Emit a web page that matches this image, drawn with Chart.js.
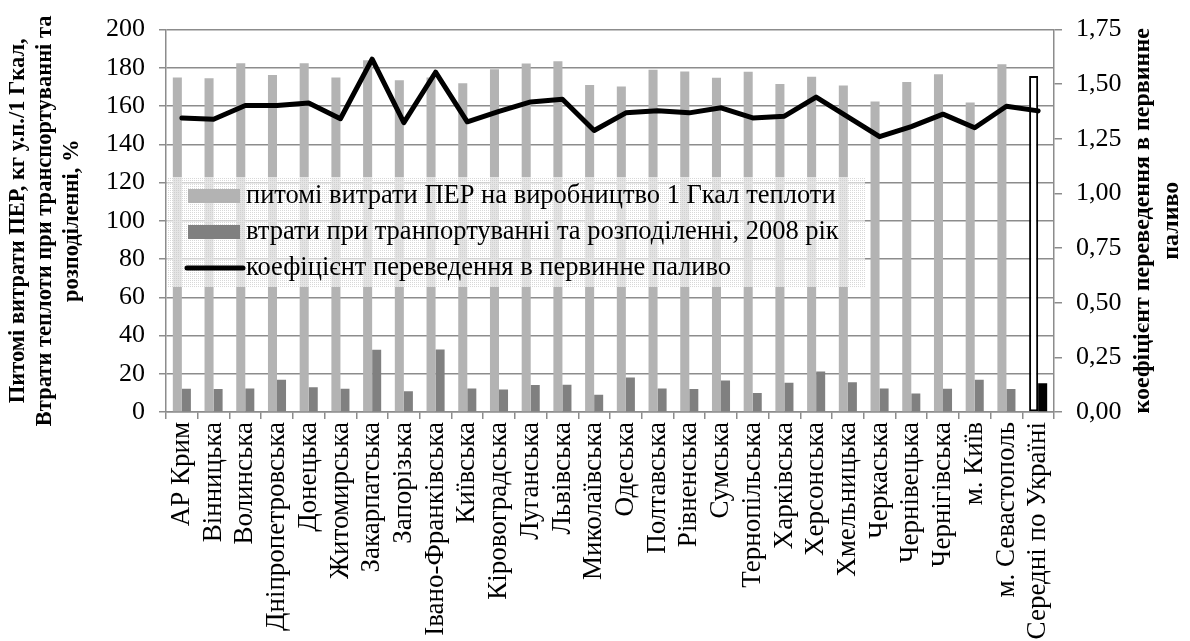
<!DOCTYPE html>
<html>
<head>
<meta charset="utf-8">
<script src="https://cdn.jsdelivr.net/npm/chart.js@4.4.1/dist/chart.umd.min.js"></script>
<style>
html,body{margin:0;padding:0;background:#fff;}
#wrap{width:1190px;height:641px;position:relative;}
</style>
</head>
<body>
<div id="wrap"><canvas id="c" width="1190" height="641"></canvas></div>
<script>
const categories = ['АР Крим','Вінницька','Волинська','Дніпропетровська','Донецька','Житомирська','Закарпатська','Запорізька','Івано-Франківська','Київська','Кіровоградська','Луганська','Львівська','Миколаївська','Одеська','Полтавська','Рівненська','Сумська','Тернопільська','Харківська','Херсонська','Хмельницька','Черкаська','Чернівецька','Чернігівська','м. Київ','м. Севастополь','Середні по Україні'];
const specificUse = [175, 174.5, 182.4, 176.2, 182.4, 175, 184, 173.5, 175, 172, 179.3, 182.3, 183.5, 171, 170.2, 179, 178.1, 174.8, 178, 171.6, 175.4, 170.7, 162.4, 172.6, 176.7, 161.9, 181.9, 175.7];
const losses = [12.2, 12, 12.3, 16.9, 12.9, 12.2, 32.6, 10.9, 32.7, 12.3, 11.8, 14.1, 14.3, 9.0, 18.1, 12.3, 12, 16.5, 10, 15.3, 21.2, 15.5, 12.3, 9.7, 12.2, 16.9, 12, 15.0];
const coefficient = [1.346, 1.340, 1.403, 1.403, 1.414, 1.342, 1.615, 1.324, 1.555, 1.328, 1.376, 1.419, 1.431, 1.288, 1.369, 1.379, 1.369, 1.392, 1.346, 1.354, 1.441, 1.351, 1.260, 1.306, 1.363, 1.301, 1.399, 1.378];
const seriesNames = ['питомі витрати ПЕР на виробництво 1 Гкал теплоти','втрати при транпортуванні та розподіленні, 2008 рік','коефіцієнт переведення в первинне паливо'];
const leftTitle = ['Питомі витрати ПЕР, кг у.п./1 Гкал,','Втрати теплоти при транспортуванні та','розподіленні, %'];
const rightTitle = ['коефіцієнт переведення в первинне','паливо'];

const FONT = "'Liberation Serif', 'Times New Roman', serif";
const GRID = '#8c8c8c';
const LIGHT = '#b3b3b3';
const DARK = '#808080';
const last = categories.length - 1;

const lightBg = categories.map((_, i) => i === last ? '#ffffff' : LIGHT);
const lightBw = categories.map((_, i) => i === last ? 2 : 0);
const darkBg = categories.map((_, i) => i === last ? '#000000' : DARK);

// legend drawn inside plot area
const pc = document.createElement('canvas');
pc.width = 2; pc.height = 2;
const pctx = pc.getContext('2d');
pctx.fillStyle = 'rgba(255,255,255,0.65)';
pctx.fillRect(0,0,2,2);
pctx.fillStyle = 'rgba(200,200,200,0.7)';
pctx.fillRect(0,0,1,1);

const innerLegend = {
  id: 'innerLegend',
  afterDatasetsDraw(chart) {
    const {ctx, chartArea} = chart;
    const x0 = chartArea.left + 1, y0 = 177, x1 = 865, y1 = 287;
    ctx.save();
    ctx.fillStyle = ctx.createPattern(pc, 'repeat');
    ctx.fillRect(x0, y0, x1 - x0, y1 - y0);
    const rows = [196, 232, 268];
    ctx.fillStyle = LIGHT;
    ctx.fillRect(188, rows[0] - 7, 52, 14);
    ctx.fillStyle = DARK;
    ctx.fillRect(188, rows[1] - 7, 52, 14);
    ctx.strokeStyle = '#000';
    ctx.lineWidth = 5;
    ctx.lineCap = 'round';
    ctx.beginPath();
    ctx.moveTo(187, rows[2]);
    ctx.lineTo(243, rows[2]);
    ctx.stroke();
    ctx.fillStyle = '#000';
    ctx.font = `26.5px ${FONT}`;
    ctx.textAlign = 'left';
    ctx.textBaseline = 'middle';
    seriesNames.forEach((t, i) => ctx.fillText(t, 246, rows[i]));
    ctx.restore();
  }
};

const rightTitlePlugin = {
  id: 'rightTitle',
  afterDraw(chart) {
    const {ctx, chartArea} = chart;
    const cy = (chartArea.top + chartArea.bottom) / 2;
    ctx.save();
    ctx.font = `bold 24px ${FONT}`;
    ctx.fillStyle = '#000';
    ctx.textAlign = 'center';
    ctx.textBaseline = 'middle';
    rightTitle.forEach((line, i) => {
      ctx.save();
      ctx.translate(1143 + i * 29, cy);
      ctx.rotate(-Math.PI / 2);
      ctx.fillText(line, 0, 0);
      ctx.restore();
    });
    ctx.restore();
  }
};

new Chart(document.getElementById('c'), {
  type: 'bar',
  data: {
    labels: categories,
    datasets: [
      {
        type: 'line',
        label: seriesNames[2],
        data: coefficient,
        yAxisID: 'y1',
        borderColor: '#000',
        backgroundColor: '#000',
        borderWidth: 5,
        pointRadius: 0,
        tension: 0,
        borderJoinStyle: 'round',
        borderCapStyle: 'round',
        order: 0
      },
      {
        label: seriesNames[0],
        data: specificUse,
        yAxisID: 'y',
        backgroundColor: lightBg,
        borderColor: '#000',
        borderWidth: lightBw,
        borderSkipped: false,
        categoryPercentage: 0.57,
        barPercentage: 1,
        order: 1
      },
      {
        label: seriesNames[1],
        data: losses,
        yAxisID: 'y',
        backgroundColor: darkBg,
        borderWidth: 0,
        categoryPercentage: 0.57,
        barPercentage: 1,
        order: 2
      }
    ]
  },
  options: {
    responsive: false,
    animation: false,
    layout: { padding: { top: 25, left: 0, right: 0, bottom: 0 } },
    plugins: {
      legend: { display: false },
      tooltip: { enabled: false }
    },
    scales: {
      x: {
        offset: true,
        grid: { display: true, drawOnChartArea: false, drawTicks: true, tickLength: 7, color: GRID, lineWidth: 1.5, offset: true },
        border: { display: true, color: GRID, width: 1.5 },
        ticks: { autoSkip: false, minRotation: 90, maxRotation: 90, color: '#000', font: { family: FONT, size: 27 }, padding: 3 },
        afterFit(s) { s.height = 229; }
      },
      y: {
        position: 'left',
        min: 0, max: 200,
        ticks: { stepSize: 20, color: '#000', font: { family: FONT, size: 26 }, padding: 14 },
        grid: { color: GRID, lineWidth: 1.5, tickLength: 7, drawTicks: true },
        border: { display: true, color: GRID, width: 1.5 },
        title: { display: true, text: leftTitle, color: '#000', font: { family: FONT, size: 22.5, weight: 'bold', lineHeight: 1.2 }, padding: { top: 5, bottom: 0 } },
        afterFit(s) { s.width = 166; }
      },
      y1: {
        position: 'right',
        min: 0, max: 1.75,
        ticks: { stepSize: 0.25, color: '#000', font: { family: FONT, size: 26 }, padding: 14,
          callback: v => Number(v).toFixed(2).replace('.', ',') },
        grid: { drawOnChartArea: false, drawTicks: true, tickLength: 8, color: GRID, lineWidth: 1.5 },
        border: { display: true, color: GRID, width: 1.5 },
        afterFit(s) { s.width = 136; }
      }
    }
  },
  plugins: [innerLegend, rightTitlePlugin]
});
</script>
</body>
</html>
